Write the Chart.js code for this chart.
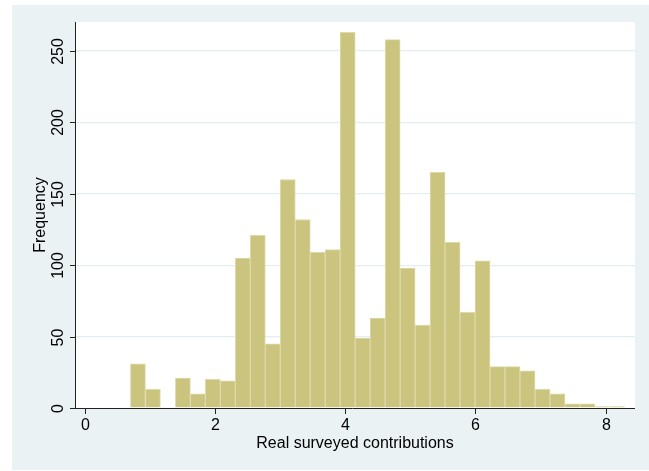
<!DOCTYPE html>
<html>
<head>
<meta charset="utf-8">
<script src="https://cdn.jsdelivr.net/npm/chart.js@4/dist/chart.umd.min.js"></script>
<style>
  html, body { margin: 0; padding: 0; background: #ffffff; }
  #wrap { width: 649px; height: 471px; position: relative; }
</style>
</head>
<body>
<div id="wrap"><canvas id="myChart" width="649" height="471"></canvas></div>
<script>

// histogram bins (centres) and counts
var bin_centres = [0.82, 1.05, 1.28, 1.51, 1.74, 1.97, 2.20, 2.43, 2.66, 2.89, 3.12,
                   3.35, 3.58, 3.81, 4.04, 4.27, 4.50, 4.73, 4.96, 5.19, 5.42, 5.65,
                   5.88, 6.11, 6.34, 6.57, 6.80, 7.03, 7.26, 7.49, 7.72, 7.95, 8.18];
var frequency = [31, 13, 0, 21, 10, 20, 19, 105, 121, 45, 160,
                 132, 109, 111, 263, 49, 63, 258, 98, 58, 165, 116,
                 67, 103, 29, 29, 26, 13, 10, 3, 3, 1, 1];

var x_ticks = [0, 2, 4, 6, 8];
var y_ticks = [0, 50, 100, 150, 200, 250];

var x_title = "Real surveyed contributions";
var y_title = "Frequency";

//------------------------------------------------------------------

var font_main = "16px 'Liberation Sans', Arial, sans-serif";

var bars = [];
for (let i = 0; i < bin_centres.length; i++) {
    bars.push({ x: bin_centres[i], y: frequency[i] });
}

const stata_look = {
    id: "stata_look",
    beforeDraw(chart) {
        const c = chart.ctx;
        const a = chart.chartArea;
        c.save();
        c.fillStyle = "#eaf2f3";
        c.fillRect(12, 5, 649 - 12, 470 - 5);
        c.fillStyle = "#ffffff";
        c.fillRect(a.left, a.top, a.right - a.left, a.bottom - a.top);
        c.restore();
    },
    afterDraw(chart) {
        const c = chart.ctx;
        const a = chart.chartArea;
        const sx = chart.scales.x;
        const sy = chart.scales.y;
        c.save();
        c.strokeStyle = "#222222";
        c.lineWidth = 1;

        // axes
        c.beginPath();
        c.moveTo(a.left + 0.5, a.top);
        c.lineTo(a.left + 0.5, a.bottom);
        c.moveTo(70, a.bottom + 0.5);
        c.lineTo(a.right, a.bottom + 0.5);
        c.stroke();

        c.fillStyle = "#000000";
        c.font = font_main;

        // x ticks
        c.textAlign = "center";
        c.textBaseline = "alphabetic";
        for (let i = 0; i < x_ticks.length; i++) {
            let px = Math.round(sx.getPixelForValue(x_ticks[i])) + 0.5;
            c.beginPath();
            c.moveTo(px, a.bottom);
            c.lineTo(px, a.bottom + 6);
            c.stroke();
            c.fillText(String(x_ticks[i]), px, 430);
        }

        // y ticks (rotated labels)
        for (let i = 0; i < y_ticks.length; i++) {
            let py = Math.round(sy.getPixelForValue(y_ticks[i])) + 0.5;
            c.beginPath();
            c.moveTo(a.left - 5, py);
            c.lineTo(a.left, py);
            c.stroke();
            c.save();
            c.translate(62.5, py);
            c.rotate(-Math.PI / 2);
            c.fillText(String(y_ticks[i]), 0, 0);
            c.restore();
        }

        // titles
        c.fillText(x_title, (a.left + a.right) / 2, 448);
        c.save();
        c.translate(45, (a.top + a.bottom) / 2);
        c.rotate(-Math.PI / 2);
        c.fillText(y_title, 0, 0);
        c.restore();

        c.restore();
    }
};

const ctx = document.getElementById("myChart");

const hist_chart = new Chart(ctx, {
    type: "bar",
    data: {
        datasets: [{
            label: "Frequency",
            data: bars,
            backgroundColor: "#cbc47f",
            borderColor: "#dedaa8",
            borderWidth: 1,
            barPercentage: 1,
            categoryPercentage: 1
        }]
    },
    options: {
        responsive: false,
        animation: false,
        events: [],
        layout: {
            padding: { left: 75, right: 14, top: 22, bottom: 63 }
        },
        plugins: {
            legend: { display: false },
            tooltip: { enabled: false }
        },
        scales: {
            x: {
                type: "linear",
                min: -0.146,
                max: 8.45,
                offset: false,
                ticks: { display: false },
                grid: { display: false, drawTicks: false },
                border: { display: false }
            },
            y: {
                min: 0,
                max: 270.3,
                ticks: { display: false, stepSize: 50, includeBounds: false },
                grid: {
                    drawTicks: false,
                    lineWidth: 1.3,
                    color: function(g) { return g.tick && g.tick.value > 0 ? "#e4eef0" : "rgba(0,0,0,0)"; }
                },
                border: { display: false }
            }
        }
    },
    plugins: [stata_look]
});

</script>
</body>
</html>
